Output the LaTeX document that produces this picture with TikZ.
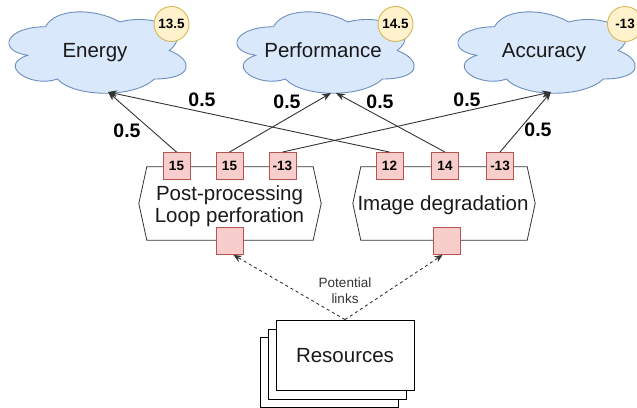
\documentclass[tikz,border=0pt]{standalone}
\usepackage{fontspec}
\setmainfont{Liberation Sans}
\usetikzlibrary{arrows.meta,calc}

\definecolor{cloudfill}{HTML}{DAE8FC}
\definecolor{cloudline}{HTML}{6C8EBF}
\definecolor{badgefill}{HTML}{FFF2CC}
\definecolor{badgeline}{HTML}{D6B656}
\definecolor{knobfill}{HTML}{F8CECC}
\definecolor{knobline}{HTML}{B85450}
\definecolor{ink}{HTML}{333333}

% draw.io style cloud with its top-left corner at (#1,#2), 198 x 95
\newcommand\drawiocloud[2]{%
  \path[cloudshape, shift={(#1,#2)}, x=198pt, y=-95pt]
    (0.25,0.25) .. controls (0.05,0.25) and (0,0.5) .. (0.16,0.55)
    .. controls (0,0.66) and (0.18,0.9) .. (0.31,0.8)
    .. controls (0.4,1) and (0.7,1) .. (0.8,0.8)
    .. controls (1,0.8) and (1,0.6) .. (0.875,0.5)
    .. controls (1,0.3) and (0.8,0.1) .. (0.625,0.2)
    .. controls (0.5,0.05) and (0.3,0.05) .. (0.25,0.25) -- cycle;}

\begin{document}
\begin{tikzpicture}[x=1pt, y=-1pt,
  cloudshape/.style={fill=cloudfill, draw=cloudline, line width=0.9pt},
  bigtext/.style={font=\fontsize{20.5}{22}\selectfont, text=black!90, inner sep=0pt, anchor=base},
  badge/.style={circle, fill=badgefill, draw=badgeline, line width=0.9pt,
    minimum size=35pt, inner sep=0pt, font=\bfseries\fontsize{13.5}{15}\selectfont},
  knob/.style={rectangle, fill=knobfill, draw=knobline, line width=0.9pt,
    minimum size=27pt, inner sep=0pt, font=\bfseries\fontsize{13.5}{15}\selectfont},
  frame/.style={draw=ink, line width=0.8pt},
  area/.style={rectangle, minimum width=166pt, minimum height=73pt, inner sep=0pt},
  weight/.style={font=\bfseries\fontsize{19.5}{23}\selectfont, inner sep=0pt},
  arr/.style={draw=ink, line width=0.9pt, -{Stealth[length=9pt,width=7pt]}},
  link/.style={draw=ink, line width=0.9pt, dash pattern=on 3pt off 3pt,
    -{Stealth[length=8pt,width=7pt]}},
  sheet/.style={rectangle, draw=black, fill=white, line width=0.8pt,
    minimum width=138pt, minimum height=70pt, inner sep=0pt}]

\useasboundingbox (0,0) rectangle (637,407);

% objectives
\drawiocloud{-4}{3}
\drawiocloud{224}{3}
\drawiocloud{445}{3}
\node[bigtext] (energy) at (95,57) {Energy};
\node[bigtext] (perf) at (323,57) {Performance};
\node[bigtext] (acc) at (544,57) {Accuracy};
\node[badge] (bE) at (171.5,24) {13.5};
\node[badge] (bP) at (395.5,24) {14.5};
\node[badge] (bA) at (625,24) {-13};

\coordinate (eTip) at (108,92);
\coordinate (pTipL) at (331,93);
\coordinate (pTipR) at (336,93);
\coordinate (aTip) at (551,92);

% techniques
\node[area] (pp) at (230,203.5) {};
\node[area] (img) at (444,203.5) {};
\draw[frame] (pp.north west) -- (pp.north east) -- ($(pp.east)+(8,0)$)
  -- (pp.south east) -- (pp.south west) -- ($(pp.west)+(-8,0)$) -- cycle;
\draw[frame] (img.north west) -- (img.north east) -- ($(img.east)+(8,0)$)
  -- (img.south east) -- (img.south west) -- ($(img.west)+(-8,0)$) -- cycle;
\node[bigtext] (ppLine1) at (229.5,200.5) {Post-processing};
\node[bigtext] (ppLine2) at (229.5,222) {Loop perforation};
\node[bigtext] (imgText) at (443,210.5) {Image degradation};

% knobs
\node[knob] (k1) at (176.5,166) {15};
\node[knob] (k2) at (229.5,166) {15};
\node[knob] (k3) at (282.5,166) {-13};
\node[knob] (k4) at (389.5,166) {12};
\node[knob] (k5) at (445,166) {14};
\node[knob] (k6) at (500,166) {-13};
\node[knob] (kL) at (229.5,241) {};
\node[knob] (kR) at (446.5,241) {};

% influences
\draw[arr] (k1.north) -- (eTip);
\draw[arr] (k4.north) -- (eTip);
\draw[arr] (k2.north) -- (pTipL);
\draw[arr] (k5.north) -- (pTipR);
\draw[arr] (k3.north) -- (aTip);
\draw[arr] (k6.north) -- (aTip);

\node[weight] (w1) at (127,131) {0.5};
\node[weight] (w2) at (202,100) {0.5};
\node[weight] (w3) at (287,102) {0.5};
\node[weight] (w4) at (380,102) {0.5};
\node[weight] (w5) at (467,100) {0.5};
\node[weight] (w6) at (538,130) {0.5};

% resources
\node[sheet] (r3) at (329.5,372) {};
\node[sheet] (r2) at (337.5,364) {};
\node[sheet] (r1) at (345,355) {};
\node[bigtext] (resText) at (345,362) {Resources};

\draw[link] (r1.north) -- ($(kL.south)+(4,0)$);
\draw[link] (r1.north) -- ($(kR.south)+(-4,0)$);
\node[align=center, text=black!80, font=\fontsize{13.5}{16}\selectfont, inner sep=0pt]
  (pot) at (345,291) {Potential\\links};
\end{tikzpicture}
\end{document}
